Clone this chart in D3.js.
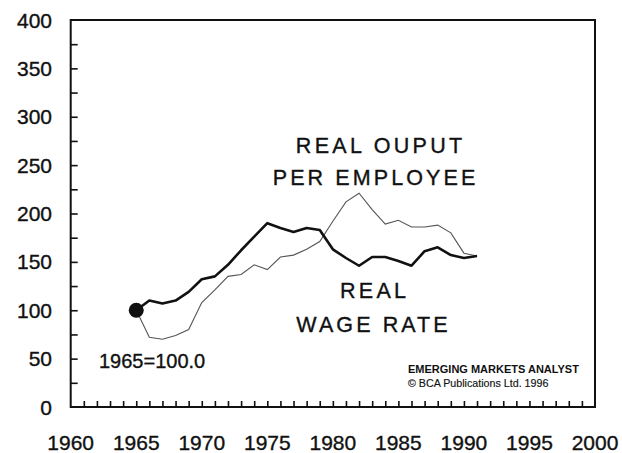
<!DOCTYPE html>
<html>
<head>
<meta charset="utf-8">
<script src="https://cdn.jsdelivr.net/npm/d3@7"></script>
<style>
    body { margin: 0; background: #fff; }
    svg { display: block; font-family: Arial, "Liberation Sans", sans-serif; }
    text { stroke: #111; stroke-width: 0.35px; }
</style>
</head>
<body>
<svg id="chart" width="622" height="453"></svg>
<script>
// 1965 = 100.0
var years = [1965, 1966, 1967, 1968, 1969, 1970, 1971, 1972, 1973, 1974, 1975, 1976, 1977, 1978,
    1979, 1980, 1981, 1982, 1983, 1984, 1985, 1986, 1987, 1988, 1989, 1990, 1991];

var realWage = [100, 110, 107, 110, 119, 132, 135, 147, 162, 176, 190, 185, 181, 185,
    183, 163, 154, 146, 155, 155, 151, 146, 161, 165, 157, 154, 156];

var realOutput = [100, 72, 70, 74, 80, 108, 121, 135, 137, 147, 142, 155, 157, 163,
    171, 192, 212, 221, 204, 189, 193, 186, 186, 188, 180, 159, 156];

var yTickLabels = [0, 50, 100, 150, 200, 250, 300, 350, 400];
var xTickLabels = [1960, 1965, 1970, 1975, 1980, 1985, 1990, 1995, 2000];

function drawChart() {

    var svg = d3.select('#chart');

    var plotLeft = 70.7, plotRight = 595, plotTop = 20, plotBottom = 407;

    var x = d3.scaleLinear().domain([1960, 2000]).range([plotLeft, plotRight]);
    var y = d3.scaleLinear().domain([0, 400]).range([plotBottom, plotTop]);

    // ticks point into the plot
    var yAxis = d3.axisRight(y).tickValues(d3.range(25, 400, 25)).tickSize(7).tickFormat('');
    svg.append('g')
        .attr('transform', 'translate(' + plotLeft + ',0)')
        .call(yAxis)
        .call(g => g.select('.domain').remove())
        .selectAll('line').attr('stroke', '#111').attr('stroke-width', 1.6);

    var xAxis = d3.axisTop(x).tickValues(d3.range(1961, 2000)).tickSize(6).tickFormat('');
    svg.append('g')
        .attr('transform', 'translate(0,' + plotBottom + ')')
        .call(xAxis)
        .call(g => g.select('.domain').remove())
        .selectAll('line').attr('stroke', '#111').attr('stroke-width', 1.6);

    // frame
    svg.append('rect')
        .attr('x', plotLeft)
        .attr('y', plotTop)
        .attr('width', plotRight - plotLeft)
        .attr('height', plotBottom - plotTop)
        .attr('fill', 'none')
        .attr('stroke', '#111')
        .attr('stroke-width', 2);

    // tick labels
    svg.append('g').selectAll('text')
        .data(yTickLabels)
        .enter().append('text')
        .attr('x', 52)
        .attr('y', d => y(d))
        .attr('dy', '0.36em')
        .attr('text-anchor', 'end')
        .attr('font-size', 21)
        .attr('fill', '#111')
        .text(d => d);

    svg.append('g').selectAll('text')
        .data(xTickLabels)
        .enter().append('text')
        .attr('x', d => x(d))
        .attr('y', 450)
        .attr('text-anchor', 'middle')
        .attr('font-size', 21)
        .attr('fill', '#111')
        .text(d => d);

    // lines
    var line = d3.line().x(d => x(d[0])).y(d => y(d[1]));

    svg.append('path')
        .datum(d3.zip(years, realOutput))
        .attr('d', line)
        .attr('fill', 'none')
        .attr('stroke', '#555')
        .attr('stroke-width', 1.1);

    svg.append('path')
        .datum(d3.zip(years, realWage))
        .attr('d', line)
        .attr('fill', 'none')
        .attr('stroke', '#111')
        .attr('stroke-width', 2.6)
        .attr('stroke-linejoin', 'round');

    svg.append('circle')
        .attr('cx', x(years[0]))
        .attr('cy', y(realWage[0]))
        .attr('r', 7.5)
        .attr('fill', '#111');

    // labels
    function label(txt, cx, by, size, spacing) {
        svg.append('text')
            .attr('x', cx + spacing / 2)
            .attr('y', by)
            .attr('text-anchor', 'middle')
            .attr('font-size', size)
            .attr('letter-spacing', spacing)
            .attr('fill', '#111')
            .text(txt);
    }

    label('REAL OUPUT', 379, 153, 21.5, 3.3);
    label('PER EMPLOYEE', 374, 185, 21.5, 3.1);
    label('REAL', 373, 298, 21.5, 3.2);
    label('WAGE RATE', 372, 332, 21.5, 3.1);

    svg.append('text')
        .attr('x', 99)
        .attr('y', 368)
        .attr('font-size', 20)
        .attr('fill', '#111')
        .text('1965=100.0');

    svg.append('text')
        .attr('x', 408)
        .attr('y', 373)
        .attr('font-size', 11)
        .attr('font-weight', 'bold')
        .attr('fill', '#111')
        .style('stroke-width', 0)
        .text('EMERGING MARKETS ANALYST');

    svg.append('text')
        .attr('x', 408)
        .attr('y', 387)
        .attr('font-size', 10.7)
        .attr('fill', '#111')
        .style('stroke-width', 0.15)
        .text('© BCA Publications Ltd. 1996');
}

drawChart();
</script>
</body>
</html>
